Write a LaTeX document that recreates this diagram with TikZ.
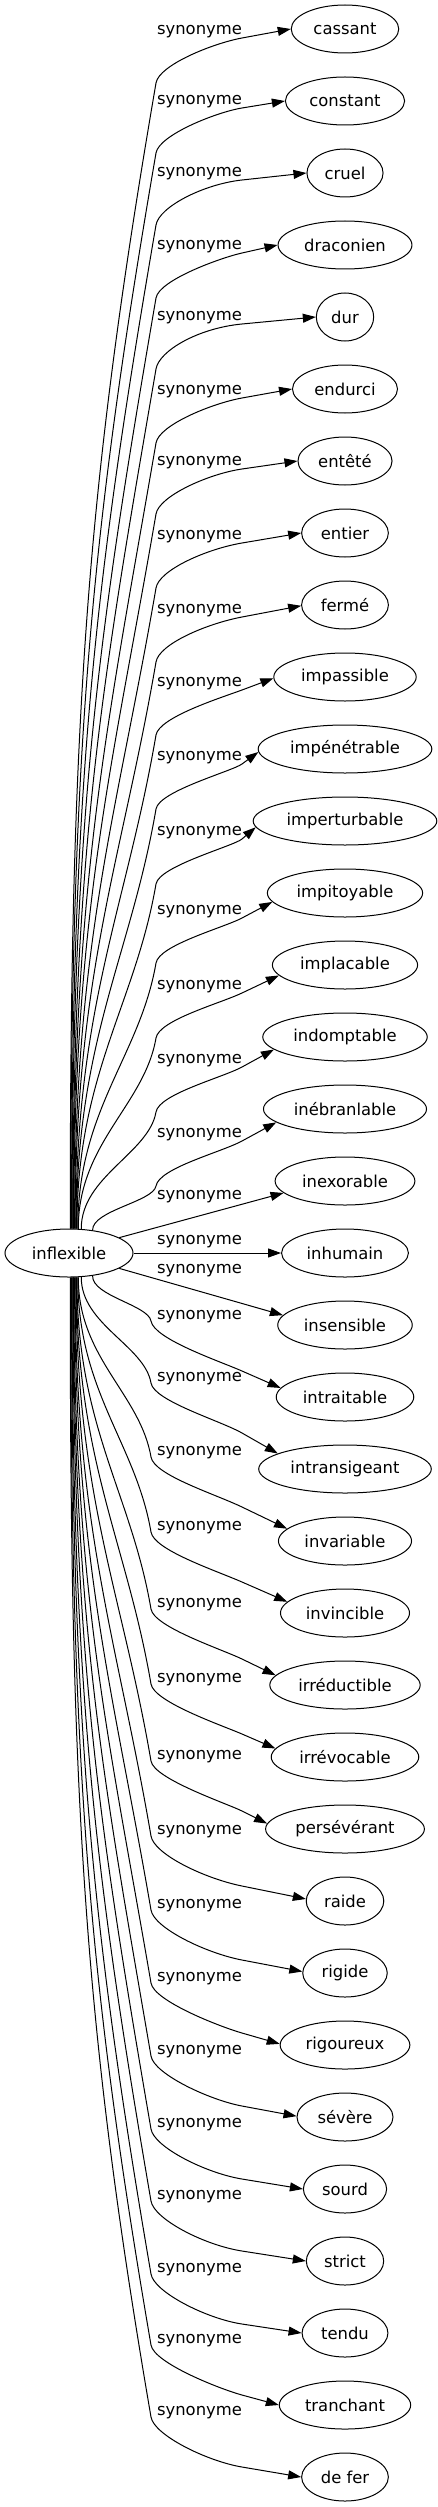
\documentclass[tikz,border=0pt]{standalone}
\usepackage{fontspec}
\setmainfont{DejaVu Sans}
\usetikzlibrary{arrows.meta,shapes.geometric,calc}
\begin{document}
\begin{tikzpicture}[x=1pt,y=-1pt,
  word/.style={ellipse,draw,line width=1pt,minimum height=48pt,inner xsep=6.5pt,inner ysep=2pt,font=\fontsize{16.4pt}{20pt}\selectfont},
  lab/.style={font=\fontsize{16.4pt}{20pt}\selectfont,inner sep=0pt},
  syn/.style={line width=1pt,-{Triangle[length=13pt,width=9pt]}}]
\useasboundingbox (0,0) rectangle (437,2507);
\node[word,minimum width=128pt] (inf) at (69,1253) {inflexible};
\foreach \i/\t in {0/cassant,1/constant,2/cruel,3/draconien,4/dur,5/endurci,6/entêté,7/entier,8/fermé,9/impassible,10/impénétrable,11/imperturbable,12/impitoyable,13/implacable,14/indomptable,15/inébranlable,16/inexorable,17/inhumain,18/insensible,19/intraitable,20/intransigeant,21/invariable,22/invincible,23/irréductible,24/irrévocable,25/persévérant,26/raide,27/rigide,28/rigoureux,29/sévère,30/sourd,31/strict,32/tendu,33/tranchant,34/de fer}
  \node[word] (n\i) at (345,{29+72*\i}) {\t};
% upper edges
\foreach \i/\ly/\ox in {0/32/1,1/102/1.6,2/174/2.2,3/247/2.8,4/318/3.4,5/392/4,6/463/4.6,7/537/5.2,8/611/5.8,9/684/6.4,10/758/7,11/833/7.6,12/912/8.5,13/987/9,14/1061/12,15/1135/23}{
  \pgfmathsetmacro\oy{24*sqrt(1-(\ox/64)^2)}
  \pgfmathsetmacro\ang{atan2(\oy,\ox)}
  \pgfmathsetmacro\Sx{69+\ox}
  \pgfmathsetmacro\Sy{1253-\oy}
  \pgfmathsetmacro\ay{\ly+51}
  \pgfmathsetmacro\len{\Sy-\ay}
  \pgfmathsetmacro\cay{\Sy-0.45*\len}
  \pgfmathsetmacro\cbx{156-0.06*\len}
  \pgfmathsetmacro\cby{\ay+0.35*\len}
  \pgfmathsetmacro\by{\ly+6}
  \pgfmathsetmacro\ea{180+max(0,0.5*(\by-(29+72*\i)-10))}
  \node[lab] (l\i) at (199.5,\ly) {synonyme};
  \coordinate (b\i) at (242,\by);
  \draw[syn] (inf.\ang) .. controls (\Sx,\cay) and (\cbx,\cby) .. (156,\ay)
     .. controls (159,{\ay-18}) and ($(b\i)!-0.6!(n\i.\ea)$) .. (b\i) -- (n\i.\ea);
}
% middle edges
\node[lab] (l16) at (199.5,1197) {synonyme};
\draw[syn] (inf.17.5) -- (n16.191);
\node[lab] (l17) at (199.5,1242) {synonyme};
\draw[syn] (inf.east) -- (n17.west);
\node[lab] (l18) at (199.5,1271) {synonyme};
\draw[syn] (inf.-17.5) -- (n18.171);
% lower edges
\foreach \i/\ly/\ox in {19/1317/23,20/1379/12,21/1453/9,22/1528/8.5,23/1605/7.6,24/1680/7,25/1757/6.4,26/1832/5.8,27/1906/5.2,28/1979/4.6,29/2052/4,30/2125/3.4,31/2197/2.8,32/2270/2.2,33/2341/1.6,34/2413/1}{
  \pgfmathsetmacro\oy{24*sqrt(1-(\ox/64)^2)}
  \pgfmathsetmacro\ang{atan2(-\oy,\ox)}
  \pgfmathsetmacro\Sx{69+\ox}
  \pgfmathsetmacro\Sy{1253+\oy}
  \pgfmathsetmacro\ay{\ly+4}
  \pgfmathsetmacro\len{\ay-\Sy}
  \pgfmathsetmacro\cay{\Sy+0.45*\len}
  \pgfmathsetmacro\cbx{151-0.06*\len}
  \pgfmathsetmacro\cby{\ay-0.35*\len}
  \pgfmathsetmacro\by{\ly+54}
  \pgfmathsetmacro\ea{180-max(0,0.5*((29+72*\i)-\by-10))}
  \node[lab] (l\i) at (199.5,\ly) {synonyme};
  \coordinate (b\i) at (242,\by);
  \draw[syn] (inf.\ang) .. controls (\Sx,\cay) and (\cbx,\cby) .. (151,\ay)
     .. controls (154,{\ay+18}) and ($(b\i)!-0.6!(n\i.\ea)$) .. (b\i) -- (n\i.\ea);
}
\end{tikzpicture}
\end{document}
